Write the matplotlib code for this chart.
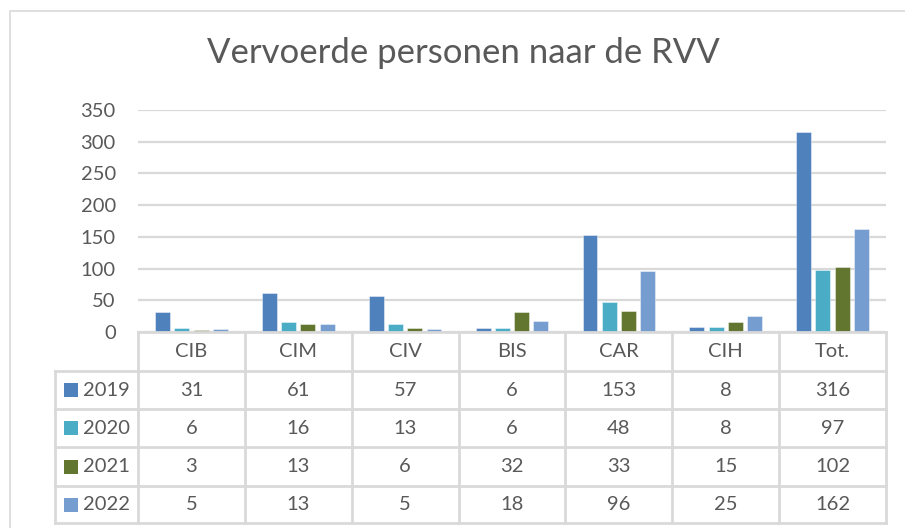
import matplotlib
matplotlib.use("Agg")
import matplotlib.pyplot as plt
import matplotlib.transforms as mtransforms
from matplotlib.patches import Rectangle
from matplotlib.lines import Line2D

categories = ["CIB", "CIM", "CIV", "BIS", "CAR", "CIH", "Tot."]
years = ["2019", "2020", "2021", "2022"]
v2019 = [31, 61, 57, 6, 153, 8, 316]
v2020 = [6, 16, 13, 6, 48, 8, 97]
v2021 = [3, 13, 6, 32, 33, 15, 102]
v2022 = [5, 13, 5, 18, 96, 25, 162]
series = [v2019, v2020, v2021, v2022]
colors = ["#4F81BD", "#4BACC6", "#63762F", "#759DD0"]
yticks = [0, 50, 100, 150, 200, 250, 300, 350]

W, H = 905, 528
TXT = "#595959"
GRID = "#D9D9D9"
FONT = "Lato"

fig = plt.figure(figsize=(W / 100, H / 100), dpi=100)
fig.patch.set_facecolor("white")

# plot area in pixels
x0, x1 = 138, 886
ytop, ybase = 110, 332
ax = fig.add_axes([x0 / W, (H - ybase) / H, (x1 - x0) / W, (ybase - ytop) / H])
ax.set_xlim(-0.5, len(categories) - 0.5)
ax.set_ylim(0, 350)
for s in ax.spines.values():
    s.set_visible(False)
ax.set_xticks([])
ax.set_yticks(yticks)
ax.set_yticklabels([str(t) for t in yticks], fontsize=14.5, color=TXT, family=FONT)
ax.tick_params(axis="y", length=0, pad=16)
ax.grid(axis="y", color=GRID, linewidth=1.6)
ax.set_axisbelow(True)

step, bw = 0.18, 0.14
for k, (vals, c) in enumerate(zip(series, colors)):
    xs = [i + (k - 1.5) * step for i in range(len(categories))]
    ax.bar(xs, vals, width=bw, color=c, edgecolor=(1, 1, 1, 0.5), linewidth=0.6, zorder=3)

# table: x in data coords, y in figure fraction
def yfig(py):
    return (H - py) / H
trans = mtransforms.blended_transform_factory(ax.transData, fig.transFigure)

px_per_unit = (x1 - x0) / len(categories)
xlab_left = -0.5 - (x0 - 55) / px_per_unit
xr = len(categories) - 0.5
row_edges = [332, 371, 409, 447, 486, 523]
lw = 2.0
fig.lines.append(Line2D([-0.5, xr], [yfig(row_edges[0])] * 2, transform=trans, color=GRID, lw=lw, zorder=5))
for ye in row_edges[1:]:
    fig.lines.append(Line2D([xlab_left, xr], [yfig(ye)] * 2, transform=trans, color=GRID, lw=lw, zorder=5))
for i in range(len(categories) + 1):
    xv = -0.5 + i
    fig.lines.append(Line2D([xv, xv], [yfig(row_edges[0]), yfig(row_edges[-1])], transform=trans, color=GRID, lw=lw, zorder=5))
fig.lines.append(Line2D([xlab_left, xlab_left], [yfig(row_edges[1]), yfig(row_edges[-1])], transform=trans, color=GRID, lw=lw, zorder=5))

fs = 14.5
for i, cat in enumerate(categories):
    fig.text(i, yfig((row_edges[0] + row_edges[1]) / 2), cat, transform=trans, ha="center", va="center",
             fontsize=fs, color=TXT, family=FONT)
for r, (yr, vals, c) in enumerate(zip(years, series, colors)):
    yc = yfig((row_edges[r + 1] + row_edges[r + 2]) / 2)
    for i, v in enumerate(vals):
        fig.text(i, yc, str(v), transform=trans, ha="center", va="center", fontsize=fs, color=TXT, family=FONT)
    fig.patches.append(Rectangle((64 / W, yc - 7 / H), 14 / W, 14 / H, transform=fig.transFigure,
                                 facecolor=c, edgecolor="none"))
    fig.text(83 / W, yc, yr, ha="left", va="center", fontsize=fs, color=TXT, family=FONT)

# title
fig.text(463 / W, yfig(53), "Vervoerde personen naar de RVV", ha="center", va="center",
         fontsize=25, color=TXT, family=FONT, fontweight="normal")

# outer chart border
fig.patches.append(Rectangle((9.5 / W, -0.1), 1.2, yfig(11.5) + 0.1, transform=fig.transFigure,
                             facecolor="none", edgecolor=GRID, lw=1.2))

fig.savefig("out.png", dpi=100, facecolor="white")
